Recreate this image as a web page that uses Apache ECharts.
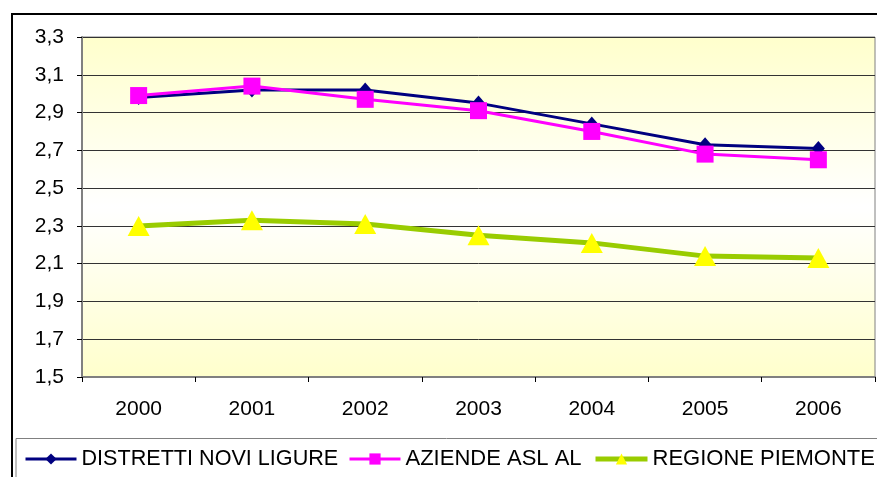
<!DOCTYPE html>
<html>
<head>
<meta charset="utf-8">
<style>
  html, body { margin: 0; padding: 0; background: #ffffff; }
  #chart { width: 877px; height: 477px; }
</style>
<script src="https://cdn.jsdelivr.net/npm/echarts@6/dist/echarts.min.js"></script>
</head>
<body>
<div id="chart"></div>
<script>
// anni
const years = ['2000', '2001', '2002', '2003', '2004', '2005', '2006'];
// valori
const distrettiNovi = [2.98, 3.02, 3.02, 2.95, 2.84, 2.73, 2.71];
const aziendeAsl = [2.99, 3.04, 2.97, 2.91, 2.80, 2.68, 2.65];
const regionePiemonte = [2.30, 2.33, 2.31, 2.25, 2.21, 2.14, 2.13];

const yMin = 1.5;
const yMax = 3.3;
const yStep = 0.2;

const font = 'Liberation Sans, Arial, sans-serif';

let chart = echarts.init(document.getElementById('chart'));

let legendText = { fontFamily: font, fontSize: 22, color: '#000' };

let option = {
  animation: false,
  backgroundColor: '#ffffff',
  graphic: [
    // cornice esterna
    { type: 'polyline', shape: { points: [[12, 477], [12, 14], [877, 14]] },
      style: { stroke: '#000', lineWidth: 2, fill: null } },
    // riquadro legenda
    { type: 'polyline', shape: { points: [[16, 477], [16, 438.5], [877, 438.5]] },
      style: { stroke: '#808080', lineWidth: 1, fill: null } }
  ],
  grid: {
    left: 82, right: 2, top: 37, bottom: 100,
    show: true,
    borderColor: '#808080',
    borderWidth: 1,
    backgroundColor: new echarts.graphic.LinearGradient(0, 0, 0, 1, [
      { offset: 0, color: '#FFFFCC' },
      { offset: 0.5, color: '#FFFFFF' },
      { offset: 1, color: '#FFFFCC' }
    ])
  },
  legend: [
    { data: ['DISTRETTI NOVI LIGURE'], left: 19, top: 443, itemWidth: 51, itemHeight: 14,
      lineStyle: { width: 3 }, textStyle: Object.assign({}, legendText, { fontSize: 21.6 }), itemGap: 0 },
    { data: ['AZIENDE ASL AL'], left: 343, top: 443, itemWidth: 51, itemHeight: 14,
      lineStyle: { width: 3 }, textStyle: legendText, itemGap: 0 },
    { data: ['REGIONE PIEMONTE'], left: 588, top: 443, itemWidth: 52, itemHeight: 14,
      lineStyle: { width: 5 }, textStyle: legendText, itemGap: 0 }
  ],
  xAxis: {
    type: 'category',
    data: years,
    boundaryGap: true,
    axisLine: { lineStyle: { color: '#808080', width: 2 } },
    axisTick: { show: true, length: 5, lineStyle: { color: '#000' } },
    axisLabel: { fontFamily: font, fontSize: 21, color: '#000', margin: 22 },
    splitLine: { show: false }
  },
  yAxis: {
    type: 'value',
    min: yMin,
    max: yMax,
    interval: yStep,
    axisLine: { show: true, lineStyle: { color: '#808080', width: 2 } },
    axisTick: { show: true, length: 5, lineStyle: { color: '#000' } },
    axisLabel: {
      fontFamily: font, fontSize: 21, color: '#000', margin: 18,
      formatter: v => v.toFixed(1).replace('.', ',')
    },
    splitLine: { lineStyle: { color: '#333', width: 1 } }
  },
  series: [
    {
      name: 'DISTRETTI NOVI LIGURE',
      type: 'line',
      data: distrettiNovi,
      symbol: 'diamond',
      symbolSize: [13, 15],
      lineStyle: { color: '#000080', width: 3 },
      itemStyle: { color: '#000080' }
    },
    {
      name: 'AZIENDE ASL AL',
      type: 'line',
      data: aziendeAsl,
      symbol: 'rect',
      symbolSize: 17,
      lineStyle: { color: '#FF00FF', width: 3 },
      itemStyle: { color: '#FF00FF' }
    },
    {
      name: 'REGIONE PIEMONTE',
      type: 'line',
      data: regionePiemonte,
      symbol: 'triangle',
      symbolSize: [22, 20],
      lineStyle: { color: '#99CC00', width: 5 },
      itemStyle: { color: '#FFFF00' }
    }
  ]
};

chart.setOption(option);
</script>
</body>
</html>
